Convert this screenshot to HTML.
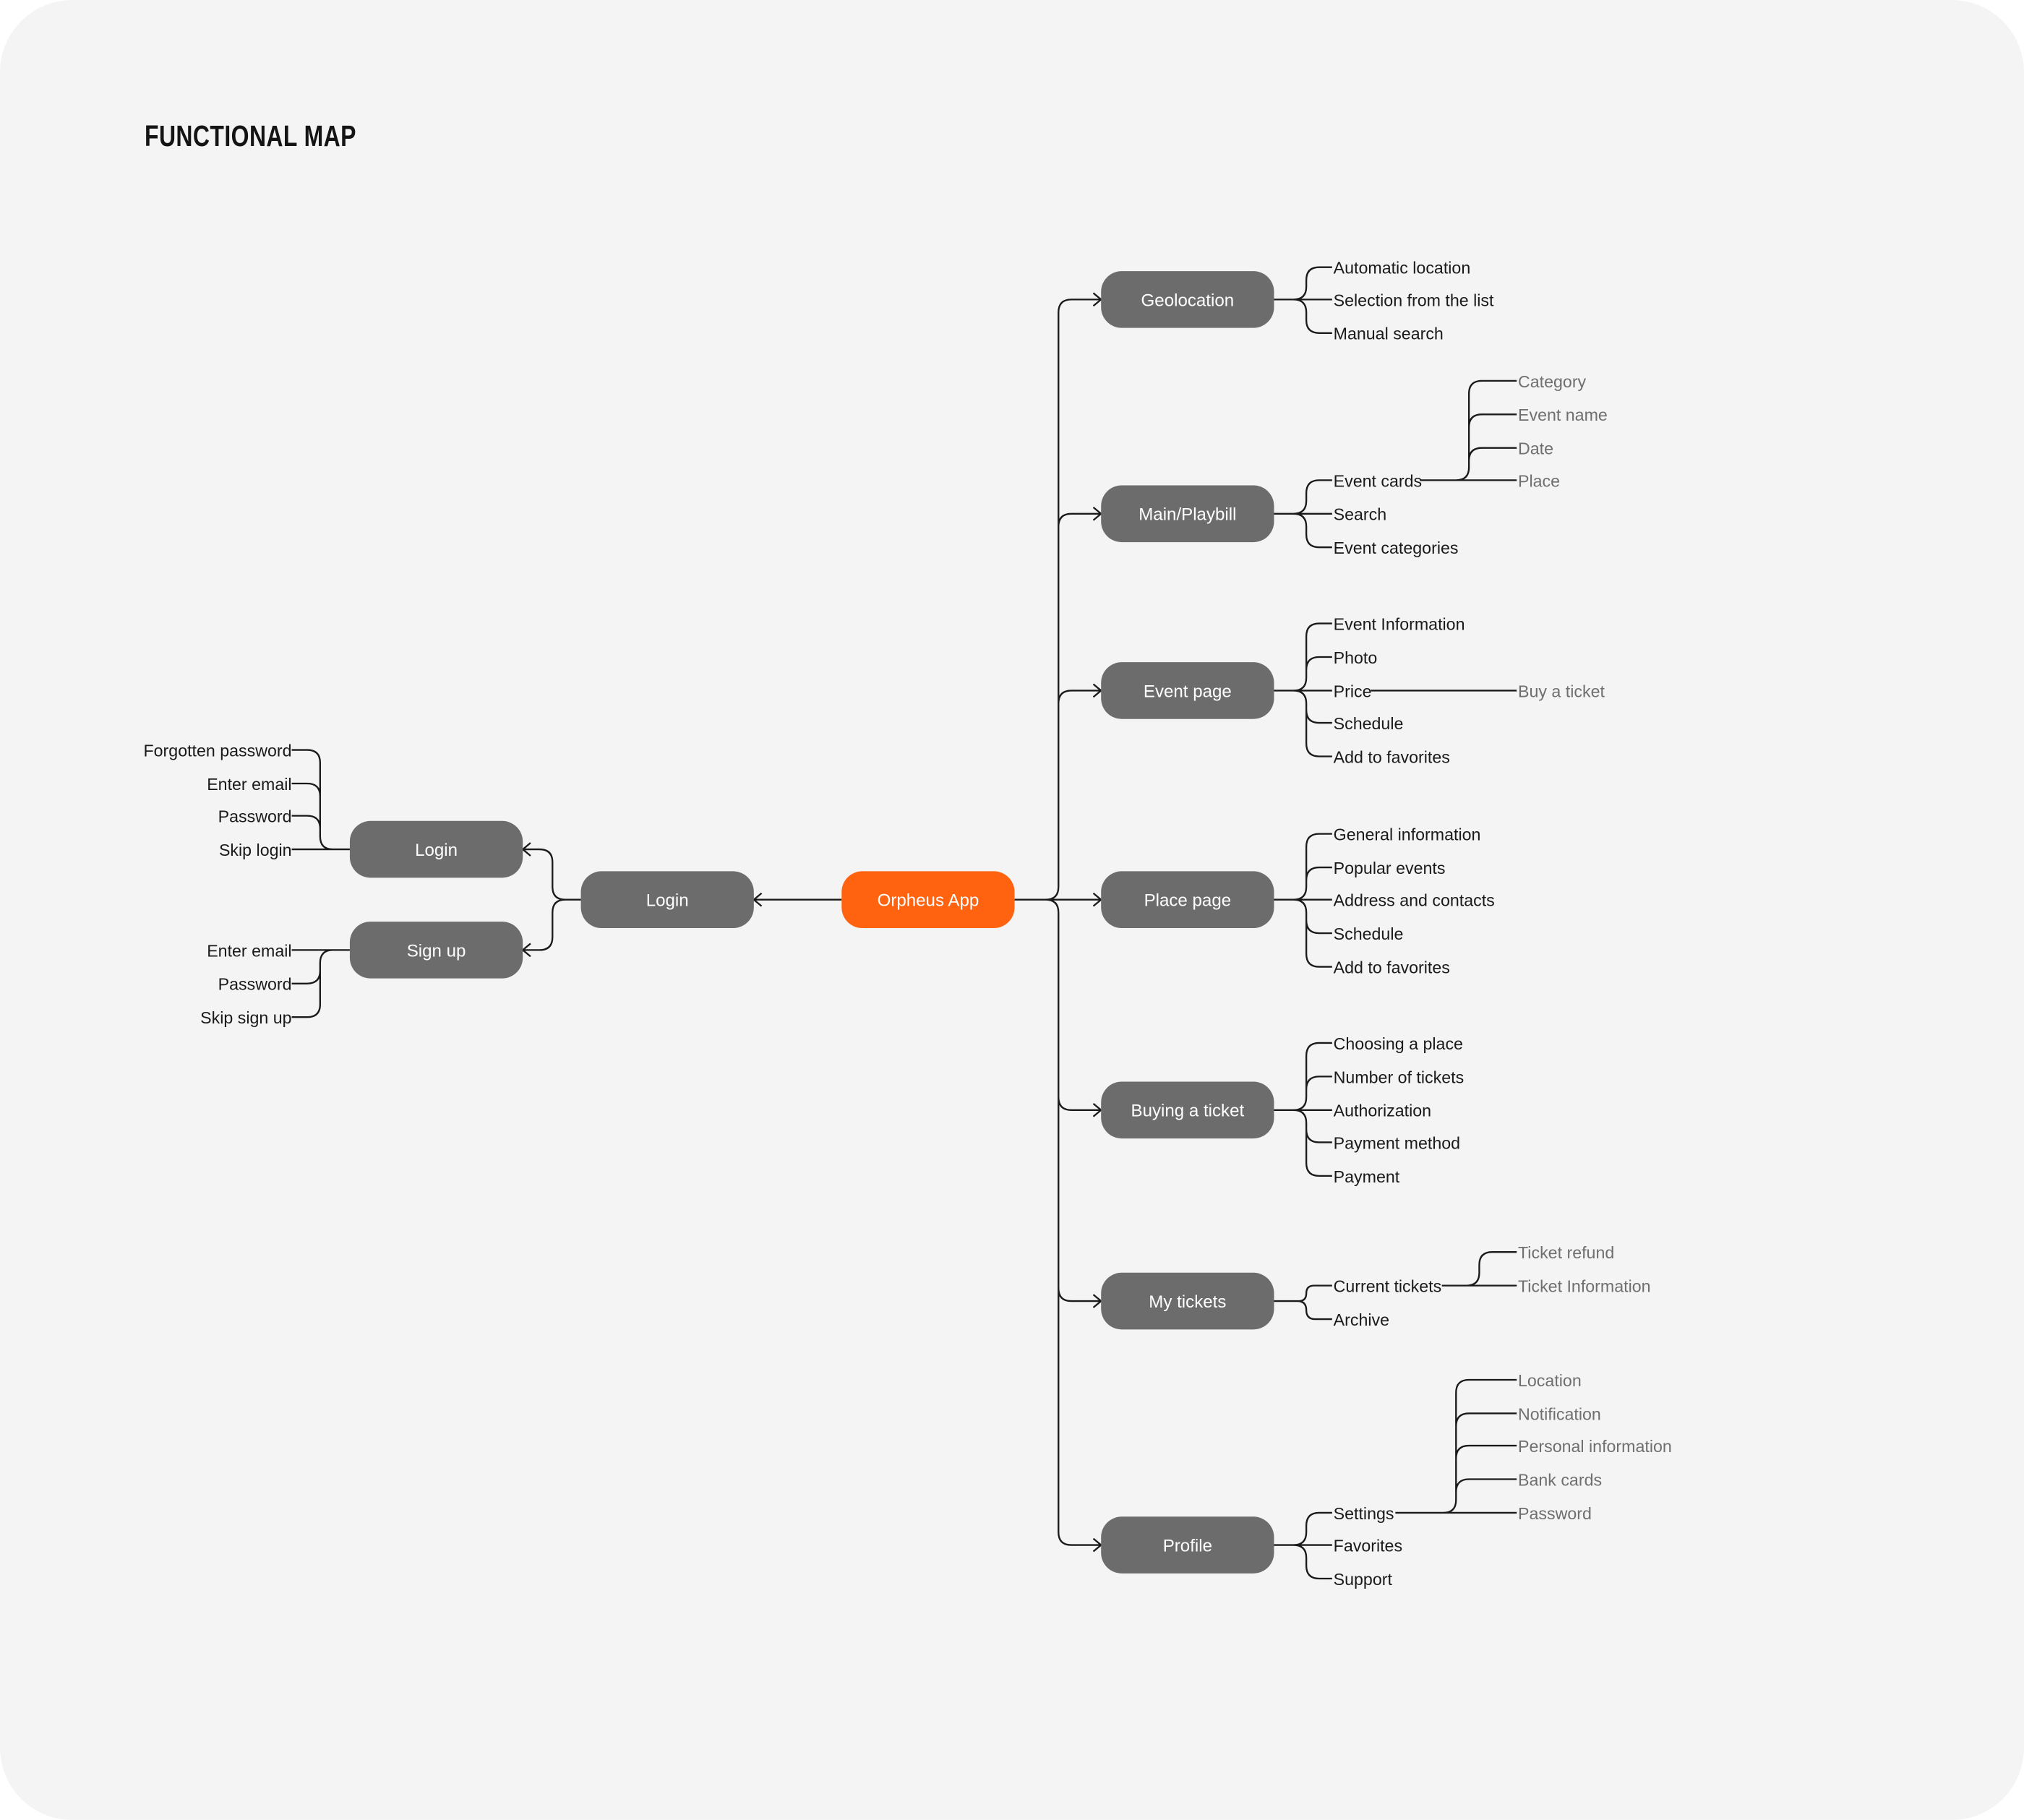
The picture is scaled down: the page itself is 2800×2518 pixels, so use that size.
<!DOCTYPE html>
<html><head><meta charset="utf-8"><style>
html,body{margin:0;padding:0;background:#fff;}
svg{display:block;}
text{font-family:"Liberation Sans",sans-serif;font-size:13px;}
.c{fill:#1a1a1a;}
.g{fill:#6f6f6f;}
.n{fill:#fff;font-size:13.5px;text-anchor:middle;}
.r{text-anchor:end;}
</style></head><body>
<svg id="s" width="2800" height="2518" viewBox="0 0 1568 1410" xmlns="http://www.w3.org/2000/svg">
<rect x="0" y="0" width="1568" height="1410" rx="56" fill="#f4f4f4"/>
<text x="112" y="113" style="font-size:23px;font-weight:bold;font-stretch:condensed;letter-spacing:0.3px" fill="#141414" textLength="164" lengthAdjust="spacingAndGlyphs">FUNCTIONAL MAP</text>
<g id="lines" fill="none" stroke="#1a1a1a" stroke-width="1.3"></g>
<g fill="#6c6c6c">
<rect x="853" y="210" width="134" height="44" rx="16"/>
<rect x="853" y="376" width="134" height="44" rx="16"/>
<rect x="853" y="513" width="134" height="44" rx="16"/>
<rect x="853" y="675" width="134" height="44" rx="16"/>
<rect x="853" y="838" width="134" height="44" rx="16"/>
<rect x="853" y="986" width="134" height="44" rx="16"/>
<rect x="853" y="1175" width="134" height="44" rx="16"/>
<rect x="450" y="675" width="134" height="44" rx="16"/>
<rect x="271" y="636" width="134" height="44" rx="16"/>
<rect x="271" y="714" width="134" height="44" rx="16"/>
</g>
<rect x="652" y="675" width="134" height="44" rx="16" fill="#ff6310"/>
<text class="n" x="920" y="237">Geolocation</text>
<text class="n" x="920" y="403">Main/Playbill</text>
<text class="n" x="920" y="540">Event page</text>
<text class="n" x="920" y="702">Place page</text>
<text class="n" x="920" y="865">Buying a ticket</text>
<text class="n" x="920" y="1013">My tickets</text>
<text class="n" x="920" y="1202">Profile</text>
<text class="n" x="719" y="702">Orpheus App</text>
<text class="n" x="517" y="702">Login</text>
<text class="n" x="338" y="663">Login</text>
<text class="n" x="338" y="741">Sign up</text>

<g class="c">
<text x="1033" y="212">Automatic location</text>
<text x="1033" y="237">Selection from the list</text>
<text x="1033" y="263">Manual search</text>
<text x="1033" y="377">Event cards</text>
<text x="1033" y="403">Search</text>
<text x="1033" y="429">Event categories</text>
<text x="1033" y="488">Event Information</text>
<text x="1033" y="514">Photo</text>
<text x="1033" y="540">Price</text>
<text x="1033" y="565">Schedule</text>
<text x="1033" y="591">Add to favorites</text>
<text x="1033" y="651">General information</text>
<text x="1033" y="677">Popular events</text>
<text x="1033" y="702">Address and contacts</text>
<text x="1033" y="728">Schedule</text>
<text x="1033" y="754">Add to favorites</text>
<text x="1033" y="813">Choosing a place</text>
<text x="1033" y="839">Number of tickets</text>
<text x="1033" y="865">Authorization</text>
<text x="1033" y="890">Payment method</text>
<text x="1033" y="916">Payment</text>
<text x="1033" y="1001">Current tickets</text>
<text x="1033" y="1027">Archive</text>
<text x="1033" y="1177">Settings</text>
<text x="1033" y="1202">Favorites</text>
<text x="1033" y="1228">Support</text>
<text class="r" x="226" y="586">Forgotten password</text>
<text class="r" x="226" y="612">Enter email</text>
<text class="r" x="226" y="637">Password</text>
<text class="r" x="226" y="663">Skip login</text>
<text class="r" x="226" y="741">Enter email</text>
<text class="r" x="226" y="767">Password</text>
<text class="r" x="226" y="793">Skip sign up</text>
</g>
<g class="g">
<text x="1176" y="300">Category</text>
<text x="1176" y="326">Event name</text>
<text x="1176" y="352">Date</text>
<text x="1176" y="377">Place</text>
<text x="1176" y="540">Buy a ticket</text>
<text x="1176" y="975">Ticket refund</text>
<text x="1176" y="1001">Ticket Information</text>
<text x="1176" y="1074">Location</text>
<text x="1176" y="1100">Notification</text>
<text x="1176" y="1125">Personal information</text>
<text x="1176" y="1151">Bank cards</text>
<text x="1176" y="1177">Password</text>
</g>
</svg>
<script>
var g=document.getElementById('lines'),d='';
function br(px,py,vx,cx,cys,r,arrow){
 cys.forEach(function(cy){
  var dir=cx>px?1:-1;
  if(Math.abs(cy-py)<1){d+='M'+px+','+py+'H'+cx;}
  else{var s=cy>py?1:-1,rr=Math.min(r,Math.abs(cy-py)/2);
   d+='M'+px+','+py+'H'+(vx-dir*rr)+'Q'+vx+','+py+' '+vx+','+(py+s*rr)+'V'+(cy-s*rr)+'Q'+vx+','+cy+' '+(vx+dir*rr)+','+cy+'H'+cx;}
  if(arrow){d+='M'+(cx-dir*6)+','+(cy-5)+'L'+cx+','+cy+'L'+(cx-dir*6)+','+(cy+5);}
 });
}
br(786,697,820,853,[232,398,535,697,860,1008,1197],10,true);
br(652,697,652,584,[697],10,true);
br(450,697,428,405,[658,736],10,true);
br(271,658,248,226,[581,607,632,658],10,false);
br(271,736,248,226,[736,762,788],10,false);
br(987,232,1012,1032,[207,232,258],10);
br(987,398,1012,1032,[372,398,424],10);
br(1100,372,1138,1175,[295,321,347,372],10);
br(987,535,1012,1032,[483,509,535,560,586],10);
br(1062,535,1100,1175,[535],10);
br(987,697,1012,1032,[646,672,697,723,749],10);
br(987,860,1012,1032,[808,834,860,885,911],10);
br(987,1008,1012,1032,[996,1022],8);
br(1117,996,1146,1175,[970,996],10);
br(987,1197,1012,1032,[1172,1197,1223],10);
br(1081,1172,1128,1175,[1069,1095,1120,1146,1172],10);
var p=document.createElementNS('http://www.w3.org/2000/svg','path');p.setAttribute('d',d);g.appendChild(p);
</script>
</body></html>
